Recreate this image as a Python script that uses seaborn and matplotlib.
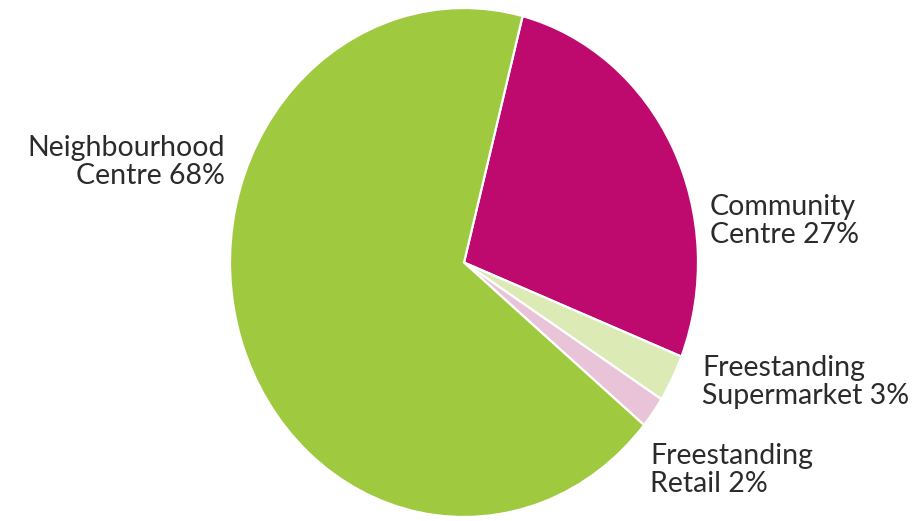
import matplotlib
matplotlib.use("Agg")
import matplotlib.pyplot as plt
import seaborn as sns

# Share of centres by type
categories = ["Community Centre", "Freestanding Supermarket", "Freestanding Retail", "Neighbourhood Centre"]
shares = [27, 3, 2, 68]
label_lines = [["Community", "Centre 27%"],
               ["Freestanding", "Supermarket 3%"],
               ["Freestanding", "Retail 2%"],
               ["Neighbourhood", "Centre 68%"]]

colors = sns.color_palette(["#BE0A6E", "#DCEAB6", "#E9C3D7", "#9FC93E"])

sns.set_theme(style="white")
plt.rcParams["font.family"] = ["Lato", "DejaVu Sans"]

W, H = 916, 521
fig = plt.figure(figsize=(W / 100, H / 100), dpi=100)
fig.patch.set_facecolor("white")

# pie drawn into an axes with free aspect, giving a slightly tall ellipse
left, right, top, bottom = 230, 698, 8, 517
ax = fig.add_axes([left / W, (H - bottom) / H, (right - left) / W, (bottom - top) / H])
ax.pie(shares, colors=colors, startangle=75.5, counterclock=False,
       wedgeprops=dict(edgecolor="white", linewidth=1.6))
ax.set_aspect("auto")
ax.set_xlim(-1, 1)
ax.set_ylim(-1, 1)
ax.axis("off")

# label anchors (pixels): x, y-centre, horizontal alignment
anchors = [(710, 221, "left"), (702, 382, "left"), (650, 470, "left"), (225, 162, "right")]
for lines, (x, y, ha) in zip(label_lines, anchors):
    fig.text(x / W, 1 - y / H, "\n".join(lines), ha=ha, va="center",
             multialignment=ha, fontsize=20.5, color="#2b2b2b", linespacing=1.12)

fig.savefig("out.png", dpi=100, facecolor="white")
